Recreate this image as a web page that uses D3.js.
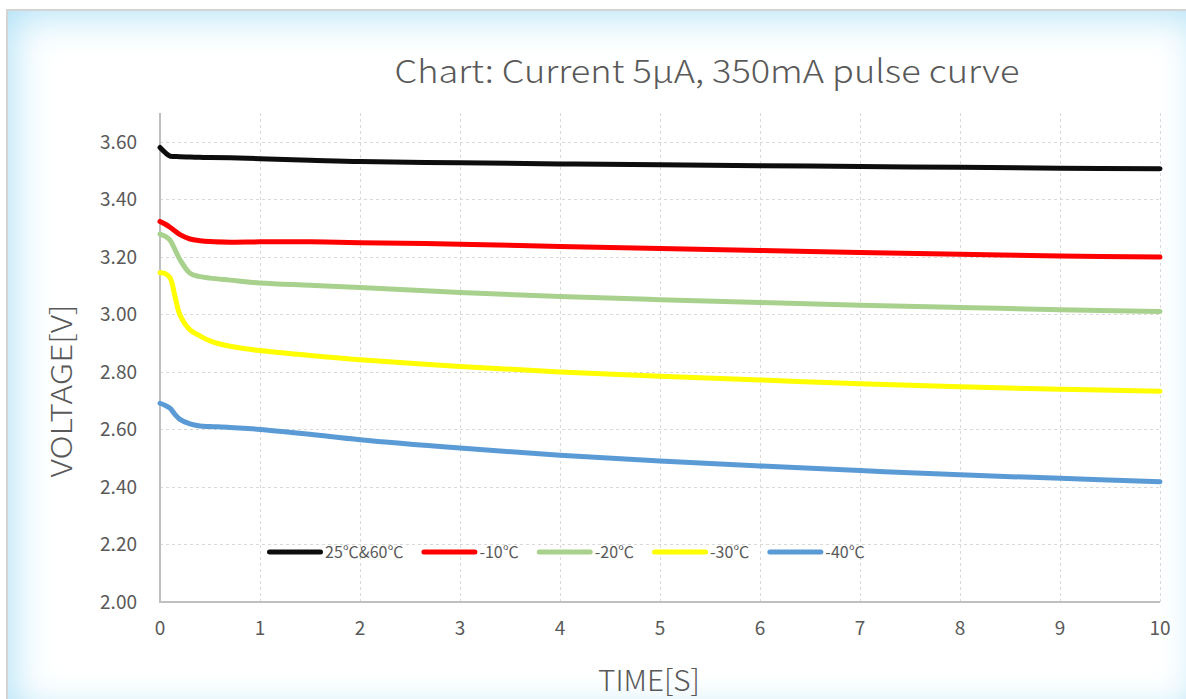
<!DOCTYPE html>
<html>
<head>
<meta charset="utf-8">
<script src="https://cdn.jsdelivr.net/npm/d3@7"></script>
<style>
  html, body { margin: 0; padding: 0; background: #fff; overflow: hidden; }
  #frame {
    position: absolute; left: 6px; top: 9px; width: 1200px; height: 710px;
    border: 2px solid #d4d4d4; box-sizing: border-box;
    box-shadow: inset 0 0 40px 4px #ade0f6;
    background: #fff;
  }
  svg { position: absolute; left: 0; top: 0; }
  text { font-family: "Noto Sans CJK SC", "Noto Sans", sans-serif; fill: #595959; }
</style>
</head>
<body>
<div id="frame"></div>
<svg id="chart" width="1186" height="699"></svg>
<script>
// sample times (s)
var times = [0, 0.05, 0.1, 0.15, 0.2, 0.3, 0.4, 0.5, 0.7, 1, 1.5, 2, 3, 4, 5, 6, 7, 8, 9, 10];

var seriesNames = ["25℃&60℃", "-10℃", "-20℃", "-30℃", "-40℃"];
var seriesColors = ["#0d0d0d", "#ff0000", "#a9d18e", "#ffff00", "#5b9bd5"];

var v25 = [3.580, 3.563, 3.550, 3.549, 3.548, 3.547, 3.546, 3.545, 3.544, 3.541, 3.536, 3.531, 3.527, 3.523, 3.520, 3.517, 3.514, 3.511, 3.508, 3.506];
var vm10 = [3.323, 3.314, 3.303, 3.290, 3.277, 3.262, 3.256, 3.253, 3.251, 3.252, 3.252, 3.249, 3.244, 3.236, 3.229, 3.222, 3.215, 3.209, 3.203, 3.199];
var vm20 = [3.279, 3.272, 3.258, 3.225, 3.190, 3.143, 3.131, 3.126, 3.119, 3.109, 3.101, 3.093, 3.076, 3.062, 3.051, 3.041, 3.032, 3.024, 3.016, 3.010];
var vm30 = [3.145, 3.142, 3.128, 3.062, 2.998, 2.946, 2.925, 2.908, 2.889, 2.874, 2.857, 2.842, 2.819, 2.800, 2.785, 2.772, 2.759, 2.748, 2.740, 2.733];
var vm40 = [2.691, 2.684, 2.674, 2.652, 2.635, 2.619, 2.612, 2.610, 2.607, 2.600, 2.583, 2.564, 2.535, 2.510, 2.490, 2.473, 2.457, 2.442, 2.430, 2.418];

var xTicks = [0, 1, 2, 3, 4, 5, 6, 7, 8, 9, 10];
var yTicks = [2.0, 2.2, 2.4, 2.6, 2.8, 3.0, 3.2, 3.4, 3.6];

var values = [v25, vm10, vm20, vm30, vm40];

var svg = d3.select("#chart");
var plotLeft = 160, plotRight = 1160, plotTop = 113, plotBottom = 602;

var x = d3.scaleLinear().domain([0, 10]).range([plotLeft, plotRight]);
var y = d3.scaleLinear().domain([2.0, 3.7]).range([plotBottom, plotTop]);

// grid
svg.append("g").selectAll("line")
    .data(yTicks.slice(1))
    .enter().append("line")
    .attr("x1", plotLeft).attr("x2", plotRight)
    .attr("y1", function (d) { return Math.round(y(d)) + 0.5; })
    .attr("y2", function (d) { return Math.round(y(d)) + 0.5; })
    .attr("stroke", "#d9d9d9").attr("stroke-width", 1)
    .attr("stroke-dasharray", "3,3");

svg.append("g").selectAll("line")
    .data(xTicks.slice(1))
    .enter().append("line")
    .attr("y1", plotTop).attr("y2", plotBottom)
    .attr("x1", function (d) { return x(d) + 0.5; })
    .attr("x2", function (d) { return x(d) + 0.5; })
    .attr("stroke", "#d9d9d9").attr("stroke-width", 1)
    .attr("stroke-dasharray", "3,3");

// axis lines
svg.append("line").attr("x1", plotLeft).attr("x2", plotLeft).attr("y1", plotTop).attr("y2", plotBottom)
    .attr("stroke", "#bfbfbf").attr("stroke-width", 2);
svg.append("line").attr("x1", plotLeft - 1).attr("x2", plotRight).attr("y1", plotBottom).attr("y2", plotBottom)
    .attr("stroke", "#bfbfbf").attr("stroke-width", 2);

// tick labels
svg.append("g").selectAll("text")
    .data(yTicks)
    .enter().append("text")
    .attr("x", 137)
    .attr("y", function (d) { return y(d); })
    .attr("dy", "0.36em")
    .attr("text-anchor", "end")
    .style("font-size", "19px")
    .text(function (d) { return d3.format(".2f")(d); });

svg.append("g").selectAll("text")
    .data(xTicks)
    .enter().append("text")
    .attr("x", function (d) { return x(d); })
    .attr("y", 628)
    .attr("dy", "0.36em")
    .attr("text-anchor", "middle")
    .style("font-size", "19px")
    .text(function (d) { return d; });

// lines
var line = d3.line()
    .x(function (d) { return x(d[0]); })
    .y(function (d) { return y(d[1]); })
    .curve(d3.curveCatmullRom.alpha(0.5));

values.forEach(function (vals, i) {
    svg.append("path")
        .datum(times.map(function (t, j) { return [t, vals[j]]; }))
        .attr("fill", "none")
        .attr("stroke", seriesColors[i])
        .attr("stroke-width", 5)
        .attr("stroke-linecap", "round")
        .attr("stroke-linejoin", "round")
        .attr("d", line);
});

// title
svg.append("text")
    .attr("x", 707).attr("y", 83)
    .attr("text-anchor", "middle")
    .attr("textLength", 625)
    .attr("lengthAdjust", "spacingAndGlyphs")
    .style("font-size", "32px")
    .style("font-weight", 300)
    .text("Chart: Current 5μA, 350mA pulse curve");

// axis titles
svg.append("text")
    .attr("transform", "translate(72,391) rotate(-90)")
    .attr("text-anchor", "middle")
    .attr("textLength", 173)
    .attr("lengthAdjust", "spacingAndGlyphs")
    .style("font-size", "29px")
    .style("font-weight", 300)
    .text("VOLTAGE[V]");

svg.append("text")
    .attr("x", 649).attr("y", 691)
    .attr("text-anchor", "middle")
    .attr("textLength", 102)
    .attr("lengthAdjust", "spacingAndGlyphs")
    .style("font-size", "29px")
    .style("font-weight", 300)
    .text("TIME[S]");

// legend
var lx = 267, ly = 552;
seriesNames.forEach(function (name, i) {
    var g = svg.append("g").attr("transform", "translate(" + lx + "," + ly + ")");
    g.append("line")
        .attr("x1", 2.5).attr("x2", 53.5)
        .attr("stroke", seriesColors[i])
        .attr("stroke-width", 5)
        .attr("stroke-linecap", "round");
    var t = g.append("text")
        .attr("x", 58)
        .attr("dy", "0.36em")
        .style("font-size", "16px")
        .text(name);
    lx += 58 + t.node().getComputedTextLength() + 18;
});
</script>
</body>
</html>
